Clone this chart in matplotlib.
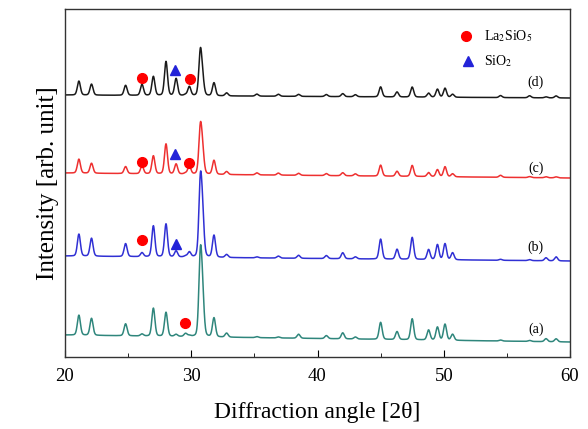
import numpy as np
import matplotlib
matplotlib.use("Agg")
import matplotlib.pyplot as plt

plt.rcParams['font.family'] = ['Liberation Serif', 'DejaVu Serif']
plt.rcParams['mathtext.fontset'] = 'stix'

# Peak positions (2theta, degrees)
peak_pos = [21.1, 22.1, 24.8, 26.1, 27.0, 28.0, 28.8, 29.55, 29.85, 30.72, 30.9,
            31.8, 32.8, 35.2, 36.9, 38.5, 40.7, 42.0, 43.0, 45.0, 46.3, 47.5,
            48.8, 49.5, 50.1, 50.7, 54.5, 56.8, 58.1, 58.9]

# Peak heights above baseline for each sample
heights_a = [20, 17, 12, 2, 28, 24, 2, 3, 1, 78, 36, 19, 4, 1, 1, 4, 3, 6, 2, 17, 8, 21, 10, 13, 16, 6, 1, 1, 3, 3]
heights_b = [22, 18, 13, 4, 31, 33, 6, 1, 5, 72, 36, 22, 3, 1, 2, 3, 3, 6, 2, 20, 10, 22, 10, 15, 16, 7, 1, 1, 3, 4]
heights_c = [14, 10, 7, 8, 18, 30, 10, 1, 8, 45, 20, 14, 3, 2, 2, 2, 2, 3, 2, 11, 5, 11, 4, 7, 10, 3, 2, 1, 1, 1]
heights_d = [14, 11, 10, 11, 19, 34, 17, 1, 9, 43, 14, 13, 3, 2, 2, 2, 2, 3, 2, 10, 5, 10, 4, 8, 9, 3, 2, 2, 1, 2]

# Baseline levels (left end, right end) for each sample, arbitrary units
baseline_a = (22, 15)
baseline_b = (101, 96)
baseline_c = (184, 179)
baseline_d = (262, 259)

# Phase markers
la2sio5_a = [(29.5, 34)]
la2sio5_b = [(26.07, 117)]
sio2_b = [(28.8, 113)]
la2sio5_c = [(26.1, 195), (29.85, 194)]
sio2_c = [(28.7, 203)]
la2sio5_d = [(26.07, 279), (29.9, 278)]
sio2_d = [(28.7, 287)]

labels = ['(a)', '(b)', '(c)', '(d)']
colors = ['#2f867c', '#3030d4', '#ee3030', '#1a1a1a']

x = np.linspace(20, 60, 4001)


def pattern(heights, base):
    y = np.interp(x, [20, 60], list(base)).copy()
    w = 0.12
    for p, h in zip(peak_pos, heights):
        g = np.exp(-0.5 * ((x - p) / w) ** 2)
        lz = 1.0 / (1.0 + ((x - p) / (w * 1.2)) ** 2)
        y += h * (0.8 * g + 0.2 * lz)
    return y


fig = plt.figure(figsize=(5.88, 4.29), dpi=100)
ax = fig.add_axes([65 / 588, 72 / 429, 505 / 588, 348 / 429])

all_heights = [heights_a, heights_b, heights_c, heights_d]
all_bases = [baseline_a, baseline_b, baseline_c, baseline_d]
for hts, base, col in zip(all_heights, all_bases, colors):
    ax.plot(x, pattern(hts, base), color=col, lw=1.1)

circ_kw = dict(marker='o', color='#ff0000', ms=7, ls='none')
tri_kw = dict(marker='^', color='#2323d8', ms=6.5, ls='none')
for pts in [la2sio5_a, la2sio5_b, la2sio5_c, la2sio5_d]:
    ax.plot([p[0] for p in pts], [p[1] for p in pts], **circ_kw)
for pts in [sio2_b, sio2_c, sio2_d]:
    ax.plot([p[0] for p in pts], [p[1] for p in pts], **tri_kw)

label_y = [28, 110, 189, 275]
for lab, ly in zip(labels, label_y):
    ax.text(57.3, ly, lab, fontsize=10, ha='center', va='center')

# legend
ax.plot([51.8], [321], **circ_kw)
ax.text(53.2, 321, r'La$_2$SiO$_5$', fontsize=10, va='center')
ax.plot([51.9], [296], **tri_kw)
ax.text(53.2, 296, r'SiO$_2$', fontsize=10, va='center')

ax.set_xlim(20, 60)
ax.set_ylim(0, 348)
ax.set_xticks([20, 30, 40, 50, 60])
ax.set_xticks([25, 35, 45, 55], minor=True)
ax.set_yticks([])
ax.tick_params(axis='x', which='major', direction='in', length=5, labelsize=13.5, pad=8, top=False)
ax.tick_params(axis='x', which='minor', direction='in', length=3, top=False)
for s in ax.spines.values():
    s.set_linewidth(1.0)
    s.set_color('#333333')

ax.set_xlabel('Diffraction angle [2\u03b8]', fontsize=17, labelpad=12)
ax.set_ylabel('Intensity [arb. unit]', fontsize=18, labelpad=4)

fig.savefig('out.png', dpi=100)
